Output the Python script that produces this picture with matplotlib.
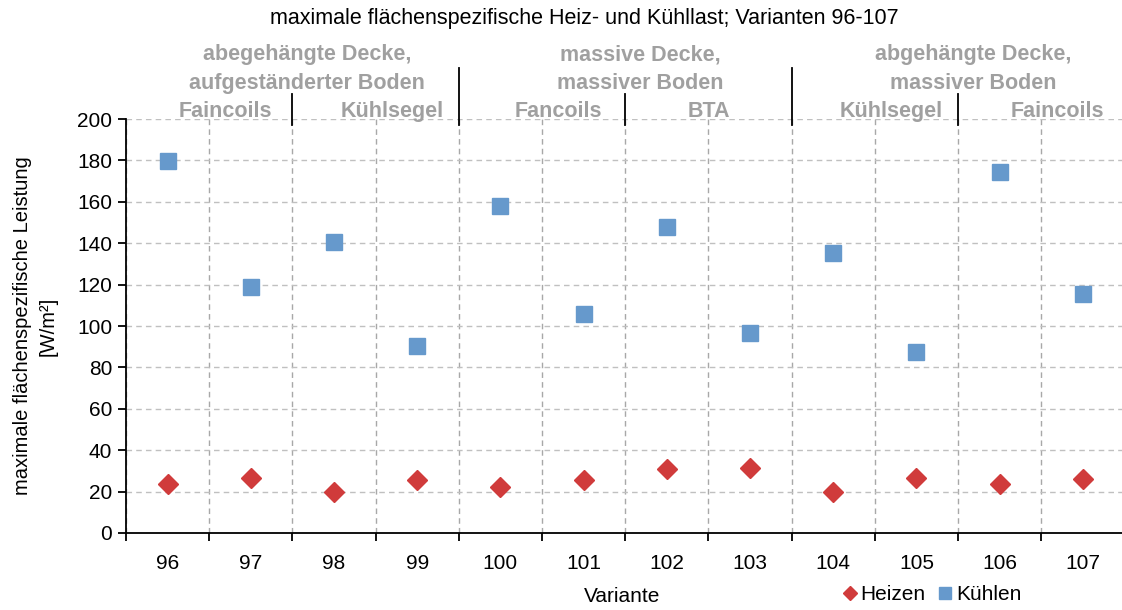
import matplotlib
matplotlib.use("Agg")
import matplotlib.pyplot as plt
from matplotlib.lines import Line2D

plt.rcParams['font.family'] = ['Liberation Sans', 'DejaVu Sans']

varianten = ['96', '97', '98', '99', '100', '101', '102', '103', '104', '105', '106', '107']
heizen = [23.7, 26.4, 19.6, 25.6, 22.0, 25.6, 30.8, 31.2, 19.7, 26.4, 23.7, 26.2]
kuehlen = [179.7, 118.8, 140.6, 90.3, 158.0, 105.8, 147.8, 96.6, 135.3, 87.4, 174.4, 115.5]

# header groups: (first index, last index, label)
gruppen = [(0, 3, 'abegehängte Decke,\naufgeständerter Boden'),
           (4, 7, 'massive Decke,\nmassiver Boden'),
           (8, 11, 'abgehängte Decke,\nmassiver Boden')]
systeme = [(0, 1, 'Faincoils'), (2, 3, 'Kühlsegel'), (4, 5, 'Fancoils'),
           (6, 7, 'BTA'), (8, 9, 'Kühlsegel'), (10, 11, 'Faincoils')]

RED = '#D03B3B'
BLUE = '#6699CC'
GRAY = '#A0A0A0'
FS = 15

W, H = 1122, 610
fig = plt.figure(figsize=(W / 100, H / 100), dpi=100)
ax = fig.add_axes([126 / W, 1 - 533 / H, 998.4 / W, 414 / H])

x = list(range(len(varianten)))
ax.plot(x, heizen, linestyle='none', marker='D', ms=10.5, color=RED, label='Heizen')
ax.plot(x, kuehlen, linestyle='none', marker='s', ms=12, color=BLUE, label='Kühlen')

ax.set_xlim(-0.5, len(varianten) - 0.5)
ax.set_ylim(0, 200)
ax.set_yticks(range(0, 201, 20))
ax.set_xticks(x)
ax.set_xticklabels(varianten)
ax.set_xticks([i - 0.5 for i in range(len(varianten) + 1)], minor=True)
ax.tick_params(axis='x', which='major', length=0, pad=15, labelsize=FS)
ax.tick_params(axis='x', which='minor', length=6, width=1.3, direction='out')
ax.tick_params(axis='y', length=6, width=1.3, labelsize=FS, pad=4)

ax.grid(axis='y', which='major', color='#C0C0C0', linestyle=(0, (4, 3)), linewidth=1)
ax.grid(axis='x', which='minor', color='#A8A8A8', linestyle=(0, (4, 3)), linewidth=1)
ax.set_axisbelow(True)
for s in ['top', 'right']:
    ax.spines[s].set_visible(False)
for s in ['left', 'bottom']:
    ax.spines[s].set_linewidth(1.3)

ax.set_xlabel('Variante', fontsize=FS)
ax.set_ylabel('maximale flächenspezifische Leistung\n[W/m²]', fontsize=14.5, linespacing=1.45)
ax.xaxis.set_label_coords(0.497, -0.13)
ax.yaxis.set_label_coords(-0.068, 0.5)

fig.suptitle('maximale flächenspezifische Heiz- und Kühllast; Varianten 96-107',
             fontsize=15.5, x=0.521, y=0.987)

# group labels above the plot
tr = ax.get_xaxis_transform()
for a, b, txt in gruppen:
    ax.text((a + b) / 2 + 0.18, 1.12, txt, transform=tr, ha='center', va='center',
            fontsize=15.5, fontweight='bold', color=GRAY, linespacing=1.5)
for a, b, txt in systeme:
    ax.text((a + b) / 2 + 0.2 if txt != 'BTA' else (a + b) / 2, 1.019, txt,
            transform=tr, ha='center', va='center', fontsize=15.5,
            fontweight='bold', color=GRAY)
for a, b, txt in systeme[:-1]:
    top = 1.123 if b in (3, 7) else 1.06
    ax.add_line(Line2D([b + 0.5, b + 0.5], [0.986, top], transform=tr,
                       color='black', linewidth=1.3, clip_on=False))

leg = ax.legend(loc='lower left', bbox_to_anchor=(0.697, -0.217), ncol=2, frameon=False,
                fontsize=FS, handletextpad=0.05, columnspacing=0.5, handlelength=0.9,
                markerscale=0.7)

fig.savefig('out.png', dpi=100)
